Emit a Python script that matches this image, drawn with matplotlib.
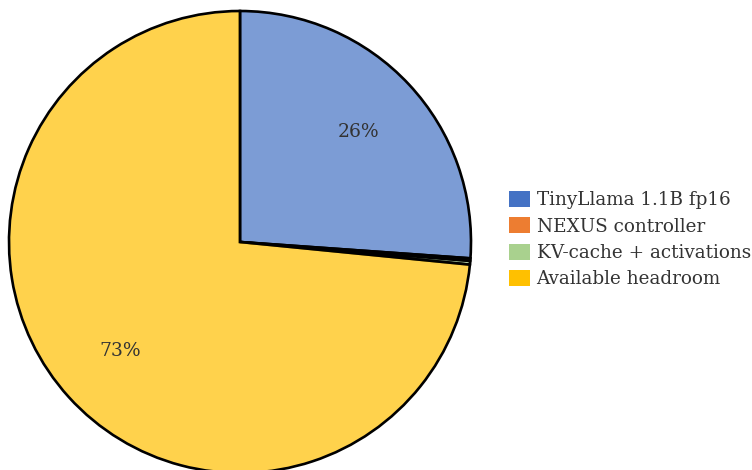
import matplotlib
matplotlib.use("Agg")
from matplotlib import pyplot as plt
from matplotlib.colors import to_rgba

# memory budget on an 8 GB device, in GB
labels = ["TinyLlama 1.1B fp16", "NEXUS controller",
          "KV-cache + activations", "Available headroom"]
sizes = [2.09, 0.015, 0.02, 5.875]
colors = ["#4472C4", "#ED7D31", "#A9D18E", "#FFC000"]


def pct_label(pct):
    """Only label slices big enough to hold the text."""
    return "{:.0f}%".format(pct) if pct >= 2 else ""


def main():
    plt.rcParams["font.family"] = ["DejaVu Serif"]
    fig = plt.figure(figsize=(7.52, 4.70), dpi=100)
    ax = fig.add_axes([9 / 752, -3 / 470, 462 / 752, 462 / 470])

    # faded fill, solid black outline
    faded = [to_rgba(c, 0.7) for c in colors]
    wedges, _, autotexts = ax.pie(
        sizes, colors=faded, startangle=90, counterclock=False,
        autopct=pct_label, pctdistance=0.7, radius=1.0,
        wedgeprops=dict(edgecolor="black", linewidth=1.9),
        textprops=dict(color="#333333", fontsize=13.5))
    for w in wedges:
        w.set_clip_on(False)
    ax.set_xlim(-1, 1)
    ax.set_ylim(-1, 1)
    ax.set_aspect("equal")
    ax.axis("off")

    handles = [plt.Rectangle((0, 0), 1, 1, facecolor=c) for c in colors]
    fig.legend(handles, labels, loc="center left",
               bbox_to_anchor=(0.655, 0.49), frameon=False, fontsize=13.2,
               handlelength=1.15, handleheight=0.95, handletextpad=0.35,
               labelspacing=0.44, labelcolor="#333333")

    fig.savefig("out.png", dpi=100)


if __name__ == "__main__":
    main()
